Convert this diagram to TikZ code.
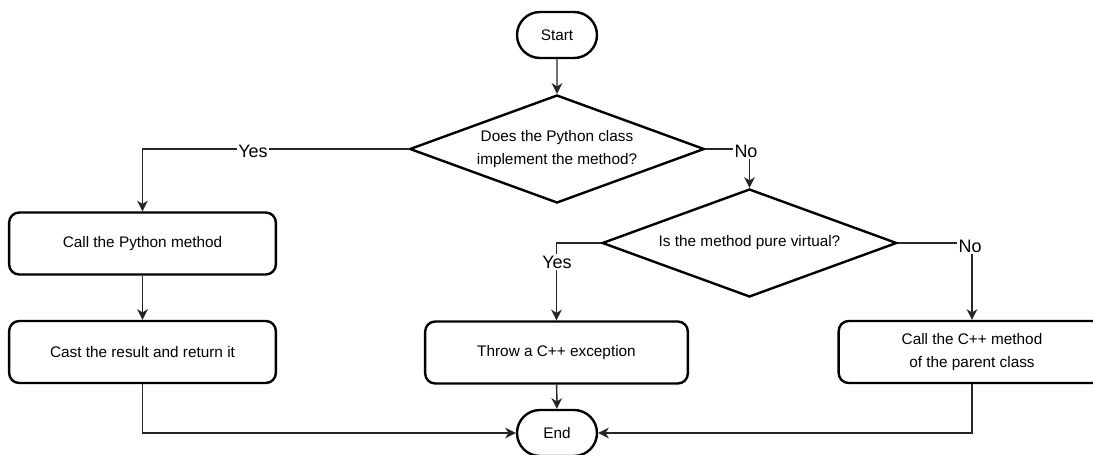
\documentclass[tikz,border=0pt]{standalone}
\usepackage{fontspec}
\setmainfont{Liberation Sans}
\usetikzlibrary{shapes.geometric,shapes.misc,arrows.meta}

\begin{document}
\begin{tikzpicture}[
  x=0.75pt, y=-0.75pt,
  font=\fontsize{11.5}{16.9}\selectfont,
  shapeline/.style={draw=black, line width=1.8pt, fill=white},
  terminal/.style={shapeline, rounded rectangle, minimum width=60pt, minimum height=34.5pt, inner sep=0pt},
  stepbox/.style={shapeline, rectangle, rounded corners=7.5pt, minimum width=200pt, minimum height=46.5pt, align=center, inner sep=0pt},
  decision/.style={shapeline, diamond, aspect=2.73, minimum width=221pt, minimum height=81pt, align=center, inner sep=0pt},
  flow/.style={draw=black!85, line width=1.1pt, -{Stealth[length=8pt,width=8pt,inset=2.5pt]}},
  lbl/.style={fill=white, inner sep=1pt, font=\fontsize{13.5}{16}\selectfont}
]
\useasboundingbox (0,0) rectangle (1093,454);

% shapes
\node[terminal] (start) at (557,35) {Start};
\node[decision] (d1) at (557,149) {Does the Python class\\implement the method?};
\node[stepbox] (b1) at (142.5,243.5) {Call the Python method};
\node[stepbox] (b2) at (142.5,352) {Cast the result and return it};
\node[decision] (d2) at (749.5,243) {Is the method pure virtual?};
\node[stepbox, minimum width=197pt] (b3) at (556.5,352.5) {Throw a C++ exception};
\node[stepbox] (b4) at (972,352) {Call the C++ method\\of the parent class};
\node[terminal] (end) at (557,433) {End};

% connectors
\draw[flow] (start) -- (d1);
\draw[flow] (d1.west) -| (b1.north);
\draw[flow] (b1) -- (b2);
\draw[flow] (d1.east) -| (d2.north);
\draw[flow] (d2.west) -| (b3.north);
\draw[flow] (d2.east) -| (b4.north);
\draw[flow] (b3) -- (end);
\draw[flow] (b2.south) |- (end.west);
\draw[flow] (b4.south) |- (end.east);

% branch labels
\node[lbl] (yes1) at (253,151) {Yes};
\node[lbl] (no1) at (746,151) {No};
\node[lbl] (yes2) at (557,262) {Yes};
\node[lbl] (no2) at (970,246.5) {No};
\end{tikzpicture}
\end{document}
